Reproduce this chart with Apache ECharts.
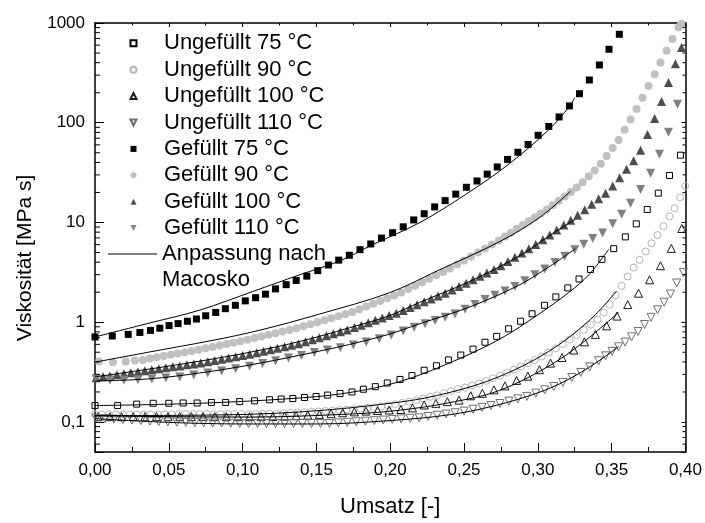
<!DOCTYPE html>
<html>
<head>
<meta charset="utf-8">
<script src="https://cdn.jsdelivr.net/npm/echarts@6/dist/echarts.min.js"></script>
<style>
  html, body { margin: 0; padding: 0; background: #fff; }
  #chart { width: 705px; height: 523px; }
</style>
</head>
<body>
<div id="chart"></div>
<script>
// Viscosity vs. conversion, unfilled and filled resin at four temperatures,
// with Macosko model fits.

const xTicks = [0, 0.05, 0.10, 0.15, 0.20, 0.25, 0.30, 0.35, 0.40];
const yDecades = [0.1, 1, 10, 100, 1000];
const yMinorTicks = [0.06, 0.07, 0.08, 0.09,
  0.2, 0.3, 0.4, 0.5, 0.6, 0.7, 0.8, 0.9,
  2, 3, 4, 5, 6, 7, 8, 9,
  20, 30, 40, 50, 60, 70, 80, 90,
  200, 300, 400, 500, 600, 700, 800, 900];

// ---- measured data [Umsatz, Viskosität] ----
const u75 = [[0.000,0.146],[0.0153,0.146],[0.0282,0.151],[0.0394,0.154],[0.0500,0.154],[0.0597,0.155],[0.0692,0.155],[0.0789,0.157],[0.0885,0.157],[0.0980,0.160],[0.1081,0.163],[0.1182,0.167],[0.1261,0.170],[0.1340,0.172],[0.1419,0.176],[0.1498,0.180],[0.1576,0.186],[0.1660,0.193],[0.1741,0.200],[0.1818,0.213],[0.1899,0.226],[0.1980,0.246],[0.2066,0.267],[0.2147,0.292],[0.2230,0.330],[0.2313,0.366],[0.2394,0.419],[0.2478,0.469],[0.2561,0.538],[0.2642,0.630],[0.2721,0.722],[0.2802,0.859],[0.2883,1.023],[0.2961,1.215],[0.3045,1.479],[0.3122,1.794],[0.3203,2.209],[0.3279,2.714],[0.3357,3.381],[0.3434,4.268],[0.3514,5.464],[0.3593,7.17],[0.3667,9.69],[0.3741,13.51],[0.3816,19.68],[0.3892,29.58],[0.3966,47.3]];

const u90 = [[0.0000,0.119],[0.0047,0.119],[0.0095,0.119],[0.0142,0.119],[0.0189,0.119],[0.0236,0.119],[0.0284,0.119],[0.0331,0.119],[0.0378,0.119],[0.0426,0.119],[0.0473,0.119],[0.0520,0.119],[0.0568,0.120],[0.0615,0.120],[0.0662,0.120],[0.0709,0.120],[0.0757,0.120],[0.0804,0.120],[0.0851,0.120],[0.0899,0.120],[0.0946,0.120],[0.0993,0.120],[0.1041,0.120],[0.1088,0.120],[0.1135,0.1204],[0.1182,0.121],[0.1230,0.1212],[0.1277,0.1224],[0.1324,0.1233],[0.1372,0.1243],[0.1419,0.1254],[0.1466,0.1266],[0.1514,0.1277],[0.1561,0.1292],[0.1608,0.1303],[0.1655,0.1318],[0.1703,0.1330],[0.1750,0.1345],[0.1797,0.1360],[0.1845,0.1379],[0.1892,0.1401],[0.1939,0.1430],[0.1986,0.1466],[0.2034,0.1507],[0.2081,0.1555],[0.2128,0.1601],[0.2176,0.1649],[0.2223,0.1722],[0.2270,0.1786],[0.2318,0.1851],[0.2365,0.1946],[0.2412,0.2041],[0.2459,0.2140],[0.2507,0.2214],[0.2554,0.2322],[0.2601,0.2434],[0.2649,0.2582],[0.2696,0.2740],[0.2743,0.2904],[0.2791,0.3124],[0.2838,0.3357],[0.2885,0.3601],[0.2932,0.3882],[0.2980,0.4173],[0.3027,0.4537],[0.3074,0.4968],[0.3122,0.5451],[0.3169,0.6035],[0.3216,0.6698],[0.3264,0.7451],[0.3311,0.8381],[0.3358,0.9471],[0.3405,1.065],[0.3446,1.249],[0.3486,1.500],[0.3527,1.864],[0.3568,2.317],[0.3608,2.879],[0.3649,3.529],[0.3689,4.229],[0.3730,5.117],[0.3770,6.187],[0.3811,7.483],[0.3851,9.176],[0.3892,11.53],[0.3926,13.92],[0.3964,17.85],[0.3998,23.27]];

const u100 = [[0.0022,0.113],[0.0101,0.113],[0.0180,0.113],[0.0259,0.113],[0.0338,0.113],[0.0417,0.113],[0.0495,0.113],[0.0574,0.113],[0.0653,0.113],[0.0732,0.113],[0.0811,0.113],[0.0890,0.113],[0.0968,0.113],[0.1047,0.113],[0.1126,0.113],[0.1205,0.1134],[0.1284,0.1142],[0.1363,0.1155],[0.1441,0.1172],[0.1520,0.1191],[0.1599,0.1212],[0.1678,0.1237],[0.1757,0.1263],[0.1836,0.1286],[0.1914,0.1302],[0.1993,0.1318],[0.2072,0.1333],[0.2151,0.1382],[0.2230,0.148],[0.2309,0.1537],[0.2387,0.160],[0.2466,0.1657],[0.2545,0.183],[0.2624,0.194],[0.2703,0.210],[0.2777,0.230],[0.2856,0.261],[0.2932,0.288],[0.3011,0.334],[0.3086,0.389],[0.3164,0.443],[0.3243,0.526],[0.3316,0.636],[0.3390,0.755],[0.3466,0.920],[0.3536,1.153],[0.3609,1.503],[0.3682,1.954],[0.3757,2.666],[0.3831,3.686],[0.3904,5.50],[0.3975,8.71]];

const u110 = [[0.0007,0.1095],[0.0068,0.1082],[0.0128,0.1068],[0.0189,0.1056],[0.0250,0.1044],[0.0311,0.1032],[0.0372,0.1020],[0.0432,0.1009],[0.0493,0.1000],[0.0554,0.0995],[0.0615,0.0991],[0.0676,0.0986],[0.0736,0.0981],[0.0797,0.0977],[0.0858,0.0975],[0.0919,0.0970],[0.0980,0.0968],[0.1041,0.0966],[0.1101,0.0966],[0.1162,0.0966],[0.1223,0.0966],[0.1284,0.0966],[0.1345,0.0966],[0.1405,0.0966],[0.1466,0.0966],[0.1527,0.0966],[0.1588,0.0966],[0.1649,0.0980],[0.1709,0.0993],[0.1770,0.1007],[0.1831,0.1018],[0.1892,0.1032],[0.1953,0.1046],[0.2014,0.1061],[0.2074,0.1073],[0.2135,0.1087],[0.2196,0.1102],[0.2257,0.1135],[0.2318,0.1166],[0.2378,0.1201],[0.2439,0.1237],[0.2500,0.1285],[0.2561,0.1342],[0.2622,0.1401],[0.2682,0.1463],[0.2743,0.1531],[0.2804,0.1616],[0.2865,0.1707],[0.2926,0.1805],[0.2986,0.1946],[0.3047,0.2101],[0.3108,0.2265],[0.3169,0.2490],[0.3230,0.2795],[0.3291,0.3137],[0.3351,0.3561],[0.3412,0.4108],[0.3459,0.4600],[0.3503,0.5105],[0.3547,0.5677],[0.3591,0.6317],[0.3635,0.7137],[0.3679,0.8083],[0.3723,0.9493],[0.3767,1.120],[0.3811,1.333],[0.3855,1.587],[0.3899,1.915],[0.3941,2.474],[0.3986,3.145]];

const g75 = [[0.000,0.712],[0.0117,0.728],[0.0225,0.755],[0.0304,0.790],[0.0376,0.828],[0.0439,0.871],[0.0502,0.926],[0.0563,0.969],[0.0626,1.023],[0.0687,1.077],[0.0750,1.161],[0.0818,1.254],[0.0883,1.367],[0.0951,1.479],[0.1018,1.638],[0.1088,1.761],[0.1155,1.911],[0.1223,2.160],[0.1295,2.380],[0.1363,2.624],[0.1435,2.899],[0.1509,3.290],[0.1581,3.743],[0.1651,4.193],[0.1723,4.694],[0.1795,5.342],[0.1868,6.090],[0.1941,6.978],[0.2016,7.902],[0.2088,9.05],[0.2159,10.61],[0.2230,12.23],[0.2301,14.33],[0.2372,16.57],[0.2444,19.24],[0.2516,22.54],[0.2588,26.06],[0.2657,30.53],[0.2725,36.02],[0.2795,42.88],[0.2865,50.58],[0.2934,60.62],[0.3002,74.83],[0.3074,91.76],[0.3144,114.3],[0.3214,147.6],[0.3282,195.5],[0.3349,268.4],[0.3417,379.5],[0.3482,545.2],[0.3552,770.8]];

const g90 = [[0.0027,0.404],[0.0122,0.398],[0.0209,0.404],[0.0270,0.414],[0.0324,0.419],[0.0372,0.432],[0.0419,0.445],[0.0466,0.458],[0.0514,0.472],[0.0561,0.486],[0.0608,0.500],[0.0655,0.514],[0.0703,0.529],[0.0750,0.548],[0.0797,0.565],[0.0845,0.585],[0.0892,0.605],[0.0939,0.624],[0.0986,0.646],[0.1034,0.668],[0.1081,0.693],[0.1128,0.720],[0.1176,0.748],[0.1223,0.776],[0.1270,0.806],[0.1318,0.838],[0.1365,0.871],[0.1412,0.909],[0.1459,0.952],[0.1507,0.998],[0.1554,1.046],[0.1601,1.095],[0.1649,1.148],[0.1696,1.201],[0.1743,1.268],[0.1791,1.352],[0.1838,1.440],[0.1885,1.534],[0.1932,1.634],[0.1980,1.741],[0.2027,1.855],[0.2074,1.987],[0.2122,2.149],[0.2169,2.327],[0.2216,2.519],[0.2264,2.727],[0.2311,2.951],[0.2358,3.195],[0.2405,3.466],[0.2453,3.795],[0.2500,4.165],[0.2547,4.568],[0.2595,5.003],[0.2642,5.489],[0.2689,6.008],[0.2736,6.595],[0.2777,7.219],[0.2818,7.885],[0.2858,8.633],[0.2899,9.428],[0.2939,10.32],[0.2980,11.30],[0.3020,12.34],[0.3061,13.51],[0.3101,14.90],[0.3142,16.50],[0.3182,18.26],[0.3223,20.22],[0.3264,22.39],[0.3304,25.36],[0.3345,29.05],[0.3385,33.28],[0.3426,38.73],[0.3466,46.52],[0.3507,55.88],[0.3547,67.14],[0.3588,85.14],[0.3628,108.0],[0.3669,137.0],[0.3709,177.8],[0.3750,233.2],[0.3791,306.0],[0.3831,401.6],[0.3872,526.9],[0.3912,691.4],[0.3953,907.4],[0.3972,985]];

const g100 = [[0.0007,0.278],[0.0054,0.285],[0.0101,0.291],[0.0149,0.298],[0.0196,0.305],[0.0243,0.312],[0.0291,0.319],[0.0338,0.327],[0.0385,0.334],[0.0432,0.342],[0.0480,0.350],[0.0527,0.357],[0.0574,0.365],[0.0622,0.374],[0.0669,0.382],[0.0716,0.391],[0.0764,0.402],[0.0811,0.414],[0.0858,0.426],[0.0905,0.438],[0.0953,0.451],[0.1000,0.463],[0.1047,0.477],[0.1095,0.493],[0.1142,0.512],[0.1189,0.529],[0.1236,0.549],[0.1284,0.568],[0.1331,0.587],[0.1378,0.609],[0.1426,0.636],[0.1473,0.667],[0.1520,0.698],[0.1568,0.730],[0.1615,0.766],[0.1662,0.801],[0.1709,0.838],[0.1757,0.884],[0.1804,0.934],[0.1851,0.988],[0.1899,1.044],[0.1946,1.104],[0.1993,1.167],[0.2041,1.233],[0.2088,1.312],[0.2135,1.401],[0.2182,1.500],[0.2230,1.602],[0.2277,1.710],[0.2324,1.830],[0.2372,1.954],[0.2419,2.101],[0.2466,2.275],[0.2514,2.462],[0.2561,2.666],[0.2608,2.885],[0.2655,3.123],[0.2703,3.381],[0.2750,3.676],[0.2797,4.062],[0.2845,4.476],[0.2892,4.946],[0.2939,5.451],[0.2986,6.008],[0.3034,6.699],[0.3081,7.502],[0.3128,8.421],[0.3176,9.45],[0.3223,10.56],[0.3270,11.85],[0.3318,13.42],[0.3365,15.24],[0.3412,17.30],[0.3459,19.63],[0.3507,23.16],[0.3554,28.14],[0.3601,34.20],[0.3649,41.54],[0.3696,53.05],[0.3743,76.38],[0.3791,110.0],[0.3838,163.3],[0.3885,252.5],[0.3932,390.3],[0.3973,567.2]];

const g110 = [[0.0007,0.271],[0.0101,0.263],[0.0196,0.263],[0.0291,0.265],[0.0385,0.269],[0.0480,0.276],[0.0574,0.282],[0.0669,0.296],[0.0764,0.310],[0.0858,0.324],[0.0953,0.341],[0.1047,0.363],[0.1135,0.386],[0.1223,0.410],[0.1311,0.437],[0.1399,0.465],[0.1486,0.496],[0.1574,0.526],[0.1662,0.556],[0.1750,0.591],[0.1838,0.632],[0.1926,0.681],[0.2007,0.746],[0.2088,0.819],[0.2162,0.891],[0.2236,0.968],[0.2304,1.041],[0.2372,1.122],[0.2439,1.207],[0.2507,1.348],[0.2574,1.507],[0.2642,1.687],[0.2709,1.864],[0.2777,2.059],[0.2845,2.275],[0.2912,2.606],[0.2980,2.985],[0.3047,3.420],[0.3115,3.961],[0.3182,4.590],[0.3250,5.329],[0.3311,6.062],[0.3372,6.916],[0.3439,7.85],[0.3507,9.69],[0.3568,12.09],[0.3628,15.58],[0.3696,21.40],[0.3764,31.09],[0.3824,48.34],[0.3885,80.45],[0.3946,153.4]];

// ---- Macosko fits ----
const fitU75 = [[0,0.146],[0.0709,0.154],[0.1385,0.174],[0.1723,0.197],[0.2061,0.253],[0.2399,0.389],[0.2736,0.670],[0.3007,1.207],[0.3209,1.986],[0.3345,2.985],[0.3480,5.38]];
const fitU90 = [[0,0.116],[0.0709,0.117],[0.1385,0.126],[0.2061,0.158],[0.2399,0.197],[0.2736,0.284],[0.3074,0.510],[0.3345,1.03],[0.3534,2.05]];
const fitU100 = [[0,0.115],[0.1047,0.112],[0.1723,0.120],[0.2061,0.131],[0.2399,0.156],[0.2736,0.206],[0.3074,0.363],[0.3311,0.636],[0.3547,1.254]];
const fitU110 = [[0,0.108],[0.0507,0.099],[0.1007,0.0955],[0.1507,0.0955],[0.2007,0.1035],[0.2399,0.118],[0.2703,0.145],[0.3000,0.196],[0.3196,0.262],[0.3392,0.390],[0.3547,0.570]];
const fitG75 = [[0,0.712],[0.0372,0.984],[0.0709,1.321],[0.1068,2.031],[0.1385,2.985],[0.1655,4.10],[0.1870,5.888],[0.2196,9.91],[0.2511,19.1],[0.2804,38.55],[0.3074,85.1],[0.3214,145.6],[0.3250,178.5]];
const fitG90 = [[0,0.398],[0.0372,0.504],[0.0799,0.659],[0.1115,0.831],[0.1520,1.207],[0.1993,1.97],[0.2331,3.34],[0.2736,6.37],[0.3007,11.1],[0.3221,20.5]];
const fitG100 = [[0,0.283],[0.0372,0.340],[0.0709,0.407],[0.1047,0.499],[0.1385,0.640],[0.1723,0.879],[0.1993,1.161],[0.2196,1.573],[0.2534,2.547],[0.2872,4.59],[0.3074,7.30],[0.3255,10.78]];
const fitG110 = [[0,0.257],[0.0372,0.271],[0.0709,0.310],[0.1047,0.372],[0.1385,0.466],[0.1723,0.598],[0.1993,0.759],[0.2196,0.962],[0.2534,1.414],[0.2872,2.353],[0.3074,3.578],[0.3255,5.46]];

const FONT = 'Liberation Sans, Arial, Helvetica, sans-serif';
// marker outlines as paths so that legend icons keep their proportions
const SQUARE = 'path://M0,0L10,0L10,10L0,10Z';
const UP_TRI = 'path://M5,0L10,10L0,10Z';
const DOWN_TRI = 'path://M0,0L10,0L5,10Z';
const FIT_NAME = 'Anpassung nach Macosko';

const markerSeries = [
  { name: 'Ungefüllt 75 °C',  data: u75,  symbol: SQUARE,   size: 6, fill: 'rgba(0,0,0,0)', stroke: '#000' },
  { name: 'Ungefüllt 90 °C',  data: u90,  symbol: 'circle', size: 7, fill: 'rgba(0,0,0,0)', stroke: '#b4b4b4' },
  { name: 'Ungefüllt 100 °C', data: u100, symbol: UP_TRI,   size: 8, fill: 'rgba(0,0,0,0)', stroke: '#1a1a1a' },
  { name: 'Ungefüllt 110 °C', data: u110, symbol: DOWN_TRI, size: 8, fill: 'rgba(0,0,0,0)', stroke: '#6e6e6e' },
  { name: 'Gefüllt 75 °C',    data: g75,  symbol: SQUARE,   size: 7, fill: '#000' },
  { name: 'Gefüllt 90 °C',    data: g90,  symbol: 'circle', size: 8, fill: '#c0c0c0' },
  { name: 'Gefüllt 100 °C',   data: g100, symbol: UP_TRI,   size: 9, fill: '#4d4d4d' },
  { name: 'Gefüllt 110 °C',   data: g110, symbol: DOWN_TRI, size: 9, fill: '#808080' }
];
const fitCurves = [fitU75, fitU90, fitU100, fitU110, fitG75, fitG90, fitG100, fitG110];

function yLabel(v) {
  const e = Math.log10(v);
  if (Math.abs(e - Math.round(e)) > 1e-6) return '';
  const p = Math.pow(10, Math.round(e));
  return p < 1 ? String(p).replace('.', ',') : String(p);
}

const series = [];
markerSeries.forEach(function (m) {
  const open = m.stroke !== undefined;
  series.push({
    name: m.name,
    type: 'scatter',
    data: m.data,
    symbol: m.symbol,
    symbolSize: m.size,
    symbolKeepAspect: true,
    z: 2,
    itemStyle: open
      ? { color: m.fill, borderColor: m.stroke, borderWidth: 1, opacity: 1 }
      : { color: m.fill, borderWidth: 0, opacity: 1 },
    emphasis: { disabled: true }
  });
});
fitCurves.forEach(function (c) {
  series.push({
    name: FIT_NAME,
    type: 'line',
    data: c,
    smooth: 0.35,
    symbol: 'none',
    showSymbol: false,
    z: 3,
    lineStyle: { color: '#000', width: 1 },
    itemStyle: { color: '#000' },
    emphasis: { disabled: true }
  });
});
// minor log ticks on the left (inside) and right (inside) frame
series.push({
  type: 'custom',
  silent: true,
  z: 5,
  clip: false,
  data: yMinorTicks.map(function (v) { return [0, v]; }),
  renderItem: function (params, api) {
    const p = api.coord([0, api.value(1)]);
    const cs = params.coordSys;
    return {
      type: 'group',
      children: [
        { type: 'line', shape: { x1: cs.x, y1: p[1], x2: cs.x + 5, y2: p[1] }, style: { stroke: '#000', lineWidth: 1 } },
        { type: 'line', shape: { x1: cs.x + cs.width, y1: p[1], x2: cs.x + cs.width - 3, y2: p[1] }, style: { stroke: '#000', lineWidth: 1 } }
      ]
    };
  }
});

const chart = echarts.init(document.getElementById('chart'), null, { renderer: 'canvas' });
chart.setOption({
  animation: false,
  backgroundColor: '#fff',
  textStyle: { fontFamily: FONT },
  grid: { left: 95, right: 18, top: 23, bottom: 63, containLabel: false },
  legend: [
    {
      data: markerSeries.map(function (m) { return m.name; }),
      orient: 'vertical',
      // the legend box starts at the (centred) marker icon
      left: 129.5, top: 30.1,
      padding: 0, itemGap: 0,
      itemWidth: 51, itemHeight: 6,
      symbolKeepAspect: true,
      selectedMode: false,
      textStyle: { fontFamily: FONT, fontSize: 22, lineHeight: 26.4, color: '#000' }
    },
    {
      data: [{ name: FIT_NAME, icon: 'rect' }],
      orient: 'vertical',
      left: 108, top: 240.8,
      padding: 0, itemGap: 0,
      itemWidth: 49, itemHeight: 1,
      selectedMode: false,
      formatter: function () { return 'Anpassung nach'; },
      textStyle: { fontFamily: FONT, fontSize: 22, lineHeight: 26.4, color: '#000' }
    }
  ],
  xAxis: [
    {
      type: 'value', position: 'bottom',
      min: xTicks[0], max: xTicks[xTicks.length - 1], interval: 0.05,
      name: 'Umsatz [-]', nameLocation: 'middle', nameGap: 44,
      nameTextStyle: { fontFamily: FONT, fontSize: 22, color: '#000' },
      axisLine: { show: true, onZero: false, lineStyle: { color: '#000', width: 1.5 } },
      axisTick: { show: true, inside: true, length: 9, lineStyle: { color: '#000', width: 1 } },
      minorTick: { show: true, splitNumber: 2, length: 5, lineStyle: { color: '#000', width: 1 } },
      axisLabel: {
        margin: 10, fontFamily: FONT, fontSize: 17, color: '#000',
        formatter: function (v) { return v.toFixed(2).replace('.', ','); }
      },
      splitLine: { show: false }
    },
    {
      type: 'value', position: 'top',
      min: xTicks[0], max: xTicks[xTicks.length - 1], interval: 0.05,
      axisLine: { show: true, onZero: false, lineStyle: { color: '#000', width: 1.5 } },
      axisTick: { show: true, inside: true, length: 4, lineStyle: { color: '#000', width: 1 } },
      minorTick: { show: true, splitNumber: 2, length: 2.5, lineStyle: { color: '#000', width: 1 } },
      axisLabel: { show: false },
      splitLine: { show: false }
    }
  ],
  yAxis: [
    {
      type: 'log', logBase: 10, position: 'left',
      min: 0.05, max: yDecades[yDecades.length - 1],
      axisLine: { show: true, onZero: false, lineStyle: { color: '#000', width: 1.5 } },
      axisTick: { show: true, inside: true, length: 9, lineStyle: { color: '#000', width: 1 } },
      axisLabel: { margin: 10, fontFamily: FONT, fontSize: 17, color: '#000', formatter: yLabel },
      splitLine: { show: false }
    },
    {
      type: 'log', logBase: 10, position: 'right',
      min: 0.05, max: yDecades[yDecades.length - 1],
      axisLine: { show: true, onZero: false, lineStyle: { color: '#000', width: 1.5 } },
      axisTick: { show: true, inside: true, length: 4, lineStyle: { color: '#000', width: 1 } },
      axisLabel: { show: false },
      splitLine: { show: false }
    }
  ],
  graphic: [
    {
      type: 'text',
      x: 25, y: 258,
      rotation: Math.PI / 2,
      style: {
        text: 'Viskosität [MPa s]',
        font: '21px ' + FONT,
        fill: '#000',
        textAlign: 'center',
        textVerticalAlign: 'middle'
      }
    },
    {
      // second line of the fit legend entry
      type: 'text',
      x: 162, y: 280.4,
      style: {
        text: 'Macosko',
        font: '22px ' + FONT,
        fill: '#000',
        textAlign: 'left',
        textVerticalAlign: 'middle'
      }
    }
  ],
  series: series
});
</script>
</body>
</html>
